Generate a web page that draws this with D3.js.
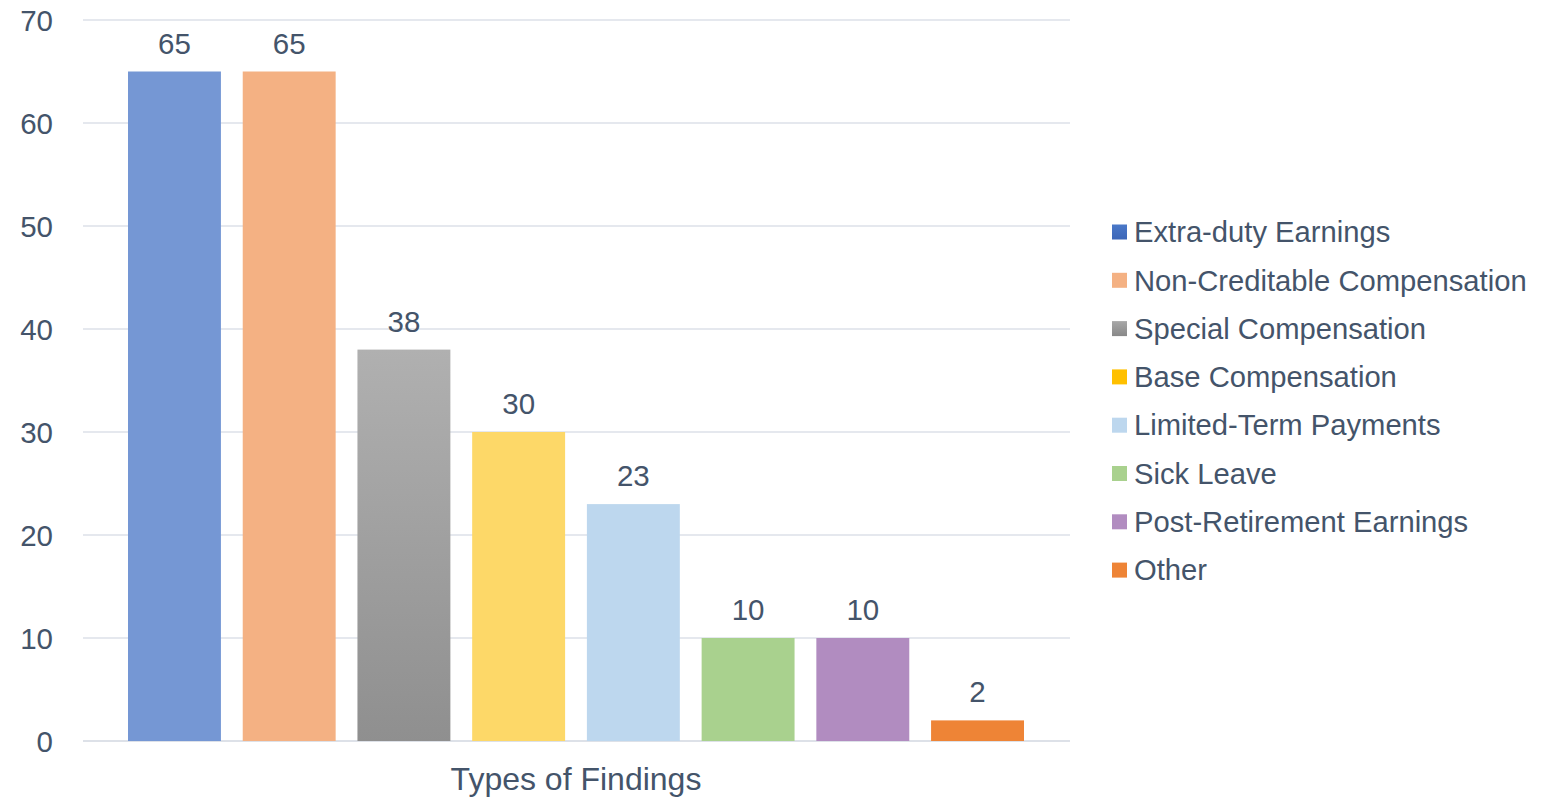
<!DOCTYPE html>
<html><head><meta charset="utf-8">
<script src="https://cdn.jsdelivr.net/npm/d3@7"></script>
<style>
html,body{margin:0;padding:0;background:#fff;}
svg{display:block;font-family:"Liberation Sans",Arial,sans-serif;}
</style></head>
<body>
<svg id="c" width="1557" height="798"></svg>
<script>
const categories = ["Extra-duty Earnings","Non-Creditable Compensation","Special Compensation","Base Compensation","Limited-Term Payments","Sick Leave","Post-Retirement Earnings","Other"];
const values = [65,65,38,30,23,10,10,2];
const yTicks = [0,10,20,30,40,50,60,70];
const barColors = ["#7597D4","#F4B183","url(#gGray)","#FDD868","#BDD7EE","#A9D18E","#B18CC0","#EE8436"];
const legendColors = ["url(#gBlue)","#F4B183","url(#gGrayL)","#FFC000","#BDD7EE","#A9D18E","#B18CC0","#EE8436"];
const axisTitle = "Types of Findings";

const svg = d3.select("#c");
const defs = svg.append("defs");
function grad(id, c1, c2){
  const g = defs.append("linearGradient").attr("id",id).attr("x1",0).attr("y1",0).attr("x2",0).attr("y2",1);
  g.append("stop").attr("offset","0%").attr("stop-color",c1);
  g.append("stop").attr("offset","100%").attr("stop-color",c2);
}
grad("gGray","#B0B0B0","#8F8F8F");
grad("gGrayL","#A8A8A8","#888888");
grad("gBlue","#4A78C8","#3C66B8");

const plotL = 83, plotR = 1070, plotT = 20, plotB = 741;
const y = d3.scaleLinear().domain([0,70]).range([plotB, plotT]);
const x = d3.scaleBand().domain(categories).range([128,1024]).paddingInner(0.19).paddingOuter(0);
const textColor = "#44546A";

// gridlines
svg.append("g").selectAll("line").data(yTicks).join("line")
  .attr("x1",plotL).attr("x2",plotR)
  .attr("y1",d=>y(d)).attr("y2",d=>y(d))
  .attr("stroke","#DDE1E8").attr("stroke-width",d=>d===0?2:1.5);

// y axis labels
const yAxis = d3.axisLeft(y).tickValues(yTicks).tickSize(0).tickPadding(0);
const ya = svg.append("g").attr("transform","translate(53,0)").call(yAxis);
ya.select(".domain").remove();
ya.selectAll("text").attr("font-size",29.5).attr("fill",textColor).attr("font-family","Liberation Sans, Arial, sans-serif").attr("dy","0.35em");

// bars
svg.append("g").selectAll("rect").data(categories).join("rect")
  .attr("x",d=>x(d)).attr("width",x.bandwidth())
  .attr("y",(d,i)=>y(values[i])).attr("height",(d,i)=>y(0)-y(values[i]))
  .attr("fill",(d,i)=>barColors[i]);

// value labels
svg.append("g").selectAll("text").data(categories).join("text")
  .attr("x",d=>x(d)+x.bandwidth()/2)
  .attr("y",(d,i)=>y(values[i])-18)
  .attr("text-anchor","middle").attr("font-size",29.5).attr("fill",textColor)
  .text((d,i)=>values[i]);

// axis title
svg.append("text").attr("x",576).attr("y",790).attr("text-anchor","middle")
  .attr("font-size",32).attr("fill",textColor).text(axisTitle);

// legend
const lg = svg.append("g").selectAll("g").data(categories).join("g")
  .attr("transform",(d,i)=>`translate(1112,${232 + i*48.3})`);
lg.append("rect").attr("x",0).attr("y",-7.5).attr("width",15).attr("height",15)
  .attr("fill",(d,i)=>legendColors[i]);
lg.append("text").attr("x",22).attr("y",0).attr("dy","0.35em")
  .attr("font-size",29.2).attr("fill",textColor).text(d=>d);
</script>
</body></html>
